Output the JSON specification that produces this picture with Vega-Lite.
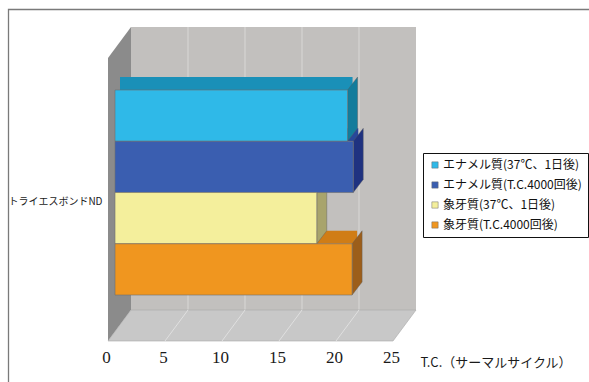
{
  "$schema": "https://vega.github.io/schema/vega-lite/v6.json",
  "width": 285,
  "height": 283,
  "autosize": {"type": "none"},
  "padding": {"left": 131, "top": 27, "right": 173, "bottom": 72},
  "background": "white",
  "config": {
    "view": {"fill": "#c2c0be", "stroke": null},
    "font": "Liberation Sans Narrow, Noto Sans CJK JP",
    "axisX": {
      "tickCount": 6, "grid": false,
      "domain": false, "ticks": false, "tickSize": 0,
      "labelFontSize": 17, "labelFont": "Liberation Sans Narrow", "labelColor": "#1a1a1a",
      "labelOffset": -25, "labelPadding": 8, "offset": 31, "labelFlush": false, "labelOverlap": false,
      "titleFont": "Liberation Sans Narrow, Noto Sans CJK JP",
      "titleFontSize": 13, "titleFontWeight": "normal", "titleColor": "#1a1a1a",
      "titleX": 289, "titleY": 21, "titleAlign": "left", "titleBaseline": "middle"
    },
    "axisY": {
      "labelExpr": "datum.value === '象牙質(37℃、1日後)' ? 'トライエスボンドND' : ''",
      "domain": false, "ticks": false, "tickSize": 0, "grid": false,
      "offset": 23, "labelPadding": 6, "labelOffset": -16,
      "labelFontSize": 10, "labelFont": "Liberation Sans Narrow, Noto Sans CJK JP", "labelColor": "#1a1a1a",
      "labelLimit": 300
    },
    "legend": {
      "orient": "none", "legendX": 292, "legendY": 126,
      "strokeColor": "#111", "padding": 6, "fillColor": "#fff",
      "symbolType": "square", "symbolSize": 40, "symbolStrokeWidth": 0.5,
      "labelFontSize": 12, "labelFont": "Liberation Sans Narrow, Noto Sans CJK JP", "labelColor": "#111",
      "labelLimit": 300, "rowPadding": 8, "labelOffset": 2
    }
  },
  "datasets": {
    "bars": [
      {"product": "トライエスボンドND", "series": "エナメル質(37℃、1日後)", "tc": 20.4},
      {"product": "トライエスボンドND", "series": "エナメル質(T.C.4000回後)", "tc": 20.9},
      {"product": "トライエスボンドND", "series": "象牙質(37℃、1日後)", "tc": 17.7},
      {"product": "トライエスボンドND", "series": "象牙質(T.C.4000回後)", "tc": 20.8}
    ],
    "ticks": [{"t": 5}, {"t": 10}, {"t": 15}, {"t": 20}],
    "one": [{"k": 1}]
  },
  "layer": [
    {
      "data": {"name": "ticks"},
      "mark": {"type": "rule", "stroke": "#d6d4d2", "strokeWidth": 1.2},
      "encoding": {"x": {"field": "t", "type": "quantitative", "scale": {"domain": [0, 25], "nice": false}, "axis": {"title": "T.C.（サーマルサイクル）"}}}
    },
    {
      "data": {"name": "one"},
      "mark": {"type": "point", "shape": "M-122.5,240 L-122.5,-159 L480,-159", "size": 4, "filled": false, "stroke": "#7a7a7a", "strokeWidth": 1.3, "opacity": 1},
      "encoding": {"x": {"datum": 0, "type": "quantitative", "scale": {"domain": [0, 25], "nice": false}, "axis": {"title": "T.C.（サーマルサイクル）"}}}
    },
    {
      "data": {"name": "one"},
      "mark": {"type": "point", "shape": "M0,-141.5 L0,141.5 L-23,172.5 L-23,-110.5 Z", "size": 4, "filled": true, "fill": "#8b8b8b", "strokeWidth": 0, "opacity": 1},
      "encoding": {"x": {"datum": 0, "type": "quantitative", "scale": {"domain": [0, 25], "nice": false}, "axis": {"title": "T.C.（サーマルサイクル）"}}}
    },
    {
      "data": {"name": "one"},
      "mark": {"type": "point", "shape": "M0,141.5 L285,141.5 L262,172.5 L-23,172.5 Z", "size": 4, "filled": true, "fill": "#c8c8c8", "stroke": "#a8a8a8", "strokeWidth": 0.6, "opacity": 1},
      "encoding": {"x": {"datum": 0, "type": "quantitative", "scale": {"domain": [0, 25], "nice": false}, "axis": {"title": "T.C.（サーマルサイクル）"}}}
    },
    {
      "data": {"name": "ticks"},
      "mark": {"type": "point", "shape": "M0,141.5 L-23,172.5", "size": 4, "filled": false, "stroke": "#e0e0e0", "strokeWidth": 1, "opacity": 1},
      "encoding": {"x": {"field": "t", "type": "quantitative", "scale": {"domain": [0, 25], "nice": false}, "axis": {"title": "T.C.（サーマルサイクル）"}}}
    },
    {
      "data": {"name": "bars"},
      "mark": {"type": "rule", "strokeWidth": 13, "strokeCap": "butt", "xOffset": -11, "x2Offset": -11, "yOffset": -32.1},
      "encoding": {
        "x": {"field": "tc", "type": "quantitative", "scale": {"domain": [0, 25], "nice": false}, "axis": {"title": "T.C.（サーマルサイクル）"}},
        "x2": {"datum": 0},
        "y": {"field": "series", "type": "nominal", "scale": {"type": "band", "domain": ["エナメル質(37℃、1日後)", "エナメル質(T.C.4000回後)", "象牙質(37℃、1日後)", "象牙質(T.C.4000回後)"], "paddingInner": 0, "paddingOuter": 0.761, "align": 0.808}, "axis": {"title": null}},
        "stroke": {"field": "series", "type": "nominal", "scale": {"domain": ["象牙質(T.C.4000回後)", "象牙質(37℃、1日後)", "エナメル質(T.C.4000回後)", "エナメル質(37℃、1日後)"], "range": ["#d07d16", "#c9c47a", "#28479a", "#1a90b8"]}, "legend": null}
      }
    },
    {
      "data": {"name": "bars"},
      "mark": {"type": "point", "shape": "M0,-25.6 L10,-38.6 L10,12.6 L0,25.6 Z", "size": 4, "filled": true, "stroke": "#5a5a5a", "strokeWidth": 0.4, "opacity": 1, "xOffset": -16},
      "encoding": {
        "x": {"field": "tc", "type": "quantitative", "scale": {"domain": [0, 25], "nice": false}, "axis": {"title": "T.C.（サーマルサイクル）"}},
        "y": {"field": "series", "type": "nominal", "scale": {"type": "band", "domain": ["エナメル質(37℃、1日後)", "エナメル質(T.C.4000回後)", "象牙質(37℃、1日後)", "象牙質(T.C.4000回後)"], "paddingInner": 0, "paddingOuter": 0.761, "align": 0.808}, "axis": {"title": null}},
        "fill": {"field": "series", "type": "nominal", "scale": {"domain": ["エナメル質(T.C.4000回後)", "エナメル質(37℃、1日後)", "象牙質(T.C.4000回後)", "象牙質(37℃、1日後)"], "range": ["#1f3280", "#137c9c", "#9c5e1a", "#a8a46c"]}, "legend": null}
      }
    },
    {
      "data": {"name": "bars"},
      "mark": {"type": "bar", "stroke": "#6f6f6f", "strokeWidth": 0.6, "xOffset": -16, "x2Offset": -16},
      "encoding": {
        "x": {"field": "tc", "type": "quantitative", "stack": null, "scale": {"domain": [0, 25], "nice": false}, "axis": {"title": "T.C.（サーマルサイクル）"}},
        "x2": {"datum": 0},
        "y": {"field": "series", "type": "nominal", "scale": {"type": "band", "domain": ["エナメル質(37℃、1日後)", "エナメル質(T.C.4000回後)", "象牙質(37℃、1日後)", "象牙質(T.C.4000回後)"], "paddingInner": 0, "paddingOuter": 0.761, "align": 0.808}, "axis": {"title": null}},
        "color": {
          "field": "series", "type": "nominal",
          "scale": {"domain": ["エナメル質(37℃、1日後)", "エナメル質(T.C.4000回後)", "象牙質(37℃、1日後)", "象牙質(T.C.4000回後)"], "range": ["#2fb9e8", "#3a5eb0", "#f4ef9c", "#f0961f"]},
          "legend": {"title": null}
        }
      }
    }
  ]
}
